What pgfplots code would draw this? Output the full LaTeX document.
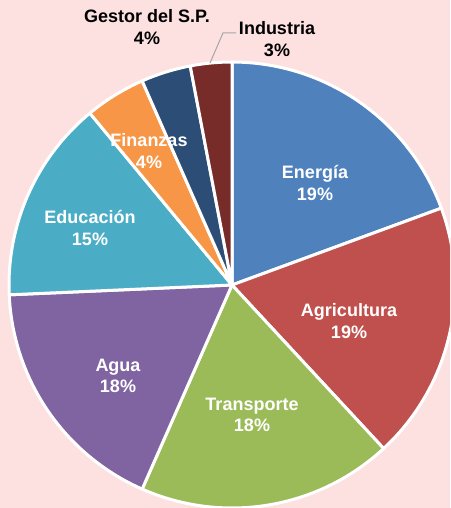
\documentclass[border=0pt]{standalone}
\usepackage{pgfplots}
\pgfplotsset{compat=1.18}
\usepackage{fontspec}
\setmainfont{Liberation Sans}
\definecolor{bg}{HTML}{FDE1E1}
\definecolor{cEn}{HTML}{4F81BD}
\definecolor{cAg}{HTML}{C0504D}
\definecolor{cTr}{HTML}{9BBB59}
\definecolor{cAu}{HTML}{8064A2}
\definecolor{cEd}{HTML}{4BACC6}
\definecolor{cFi}{HTML}{F79646}
\definecolor{cGe}{HTML}{2C4D75}
\definecolor{cIn}{HTML}{772C2A}
% slice: start percent, end percent, colour
\newcommand{\slice}[3]{\addplot[fill=#3, draw=white, line width=3pt, line join=round, domain=#1*3.6:#2*3.6, samples=90, variable=\t] ({232+223*sin(\t)},{285-223*cos(\t)}) -- (axis cs:232,285) -- cycle;}
\begin{document}
\begin{tikzpicture}
\begin{axis}[width=450pt, height=508pt, scale only axis, xmin=0, xmax=450, ymin=0, ymax=508, y dir=reverse, hide axis, clip=true]
\addplot[fill=bg, draw=none] coordinates {(0,0) (450,0) (450,508) (0,508)} -- cycle;
\slice{0}{19.4}{cEn}
\slice{19.4}{38.1}{cAg}
\slice{38.1}{56.6}{cTr}
\slice{56.6}{74.3}{cAu}
\slice{74.3}{89.0}{cEd}
\slice{89.0}{93.4}{cFi}
\slice{93.4}{97.0}{cGe}
\slice{97.0}{100}{cIn}
\addplot[color=black!35, line width=1pt] coordinates {(236,33) (223,33) (210,63)};
\begin{scope}[every node/.style={font=\fontsize{18}{21.5}\selectfont\bfseries, align=center}]
\node[text=white] at (axis cs:315,183) {Energía\\19\%};
\node[text=white] at (axis cs:349,321) {Agricultura\\19\%};
\node[text=white] at (axis cs:252,415) {Transporte\\18\%};
\node[text=white] at (axis cs:118,376) {Agua\\18\%};
\node[text=white] at (axis cs:90,228) {Educación\\15\%};
\node[text=white] at (axis cs:149,151) {Finanzas\\4\%};
\node[text=black] at (axis cs:147,27) {Gestor del S.P.\\4\%};
\node[text=black] at (axis cs:277,39) {Industria\\3\%};
\end{scope}
\end{axis}
\end{tikzpicture}
\end{document}
